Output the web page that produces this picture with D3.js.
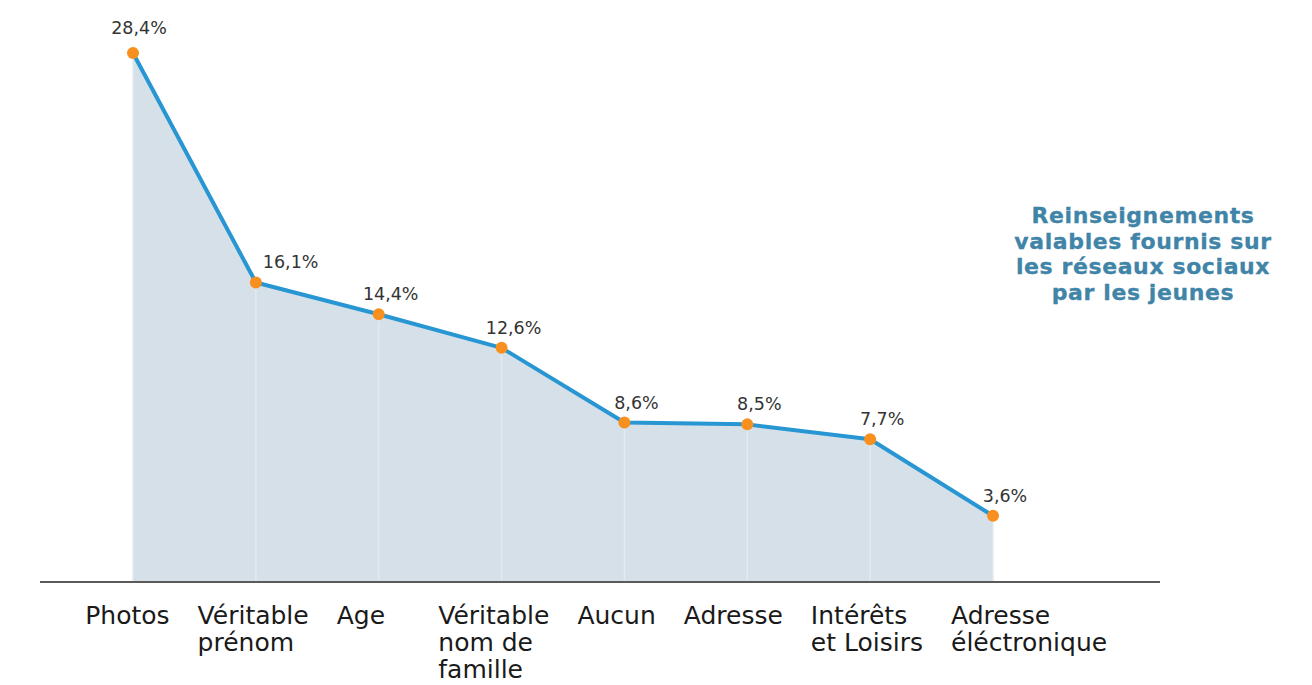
<!DOCTYPE html>
<html lang="fr">
<head>
<meta charset="utf-8">
<script src="https://cdn.jsdelivr.net/npm/d3@7"></script>
<style>
  html, body { margin: 0; padding: 0; background: #ffffff; }
  svg { display: block; }
</style>
</head>
<body>
<svg id="chart" width="1312" height="685"></svg>
<script>
// Information shared by young people on social networks (%)
const categories = [
  ["Photos"],
  ["Véritable", "prénom"],
  ["Age"],
  ["Véritable", "nom de", "famille"],
  ["Aucun"],
  ["Adresse"],
  ["Intérêts", "et Loisirs"],
  ["Adresse", "éléctronique"]
];
const values = [28.4, 16.1, 14.4, 12.6, 8.6, 8.5, 7.7, 3.6];
const valueLabels = ["28,4%", "16,1%", "14,4%", "12,6%", "8,6%", "8,5%", "7,7%", "3,6%"];
const titleLines = [
  "Reinseignements",
  "valables fournis sur",
  "les réseaux sociaux",
  "par les jeunes"
];

const svg = d3.select("#chart");
const data = values.map((v, i) => ({ i, v, cat: categories[i], label: valueLabels[i] }));

const x = d3.scalePoint()
  .domain(d3.range(values.length))
  .range([133, 993]);

const y = d3.scaleLinear()
  .domain([0, 28.4])
  .range([583, 53]);

const baseY = 582;

// filled area under the line
svg.append("path")
  .datum(data)
  .attr("fill", "#d5e0e9")
  .attr("d", d3.area()
    .x(d => x(d.i))
    .y0(baseY)
    .y1(d => y(d.v)));

// faint vertical guides from each point to the baseline
svg.append("g")
  .selectAll("line")
  .data(data)
  .join("line")
  .attr("x1", d => x(d.i))
  .attr("x2", d => x(d.i))
  .attr("y1", d => y(d.v))
  .attr("y2", baseY)
  .attr("stroke", "#e3eaf0")
  .attr("stroke-width", 1.5);

// baseline axis
svg.append("line")
  .attr("x1", 40).attr("x2", 1160)
  .attr("y1", baseY).attr("y2", baseY)
  .attr("stroke", "#5a5a5a")
  .attr("stroke-width", 2);

// the line
svg.append("path")
  .datum(data)
  .attr("fill", "none")
  .attr("stroke", "#2796d2")
  .attr("stroke-width", 4)
  .attr("stroke-linejoin", "round")
  .attr("d", d3.line().x(d => x(d.i)).y(d => y(d.v)));

// points
svg.append("g")
  .selectAll("circle")
  .data(data)
  .join("circle")
  .attr("cx", d => x(d.i))
  .attr("cy", d => y(d.v))
  .attr("r", 6)
  .attr("fill", "#f7901e");

// value labels: above each point, pushed right where the line arrives steeply
svg.append("g")
  .selectAll("text")
  .data(data)
  .join("text")
  .attr("font-family", "'DejaVu Sans', sans-serif")
  .attr("font-size", 17.5)
  .attr("fill", "#333333")
  .each(function(d) {
    const px = x(d.i), py = y(d.v);
    const sel = d3.select(this).text(d.label);
    if (d.i === 0) {
      sel.attr("x", px + 6).attr("y", py - 19).attr("text-anchor", "middle");
    } else {
      const drop = py - y(values[d.i - 1]);
      if (drop > 100) {
        sel.attr("x", px + 7).attr("y", py - 15).attr("text-anchor", "start");
      } else {
        sel.attr("x", px + 12).attr("y", py - 14).attr("text-anchor", "middle");
      }
    }
  });

// category labels under the axis: left-aligned near each point,
// then slid left wherever a label would run into its right neighbour
const catG = svg.append("g")
  .attr("font-family", "'DejaVu Sans', sans-serif")
  .attr("font-size", 25)
  .attr("fill", "#1a1a1a");

const catTexts = catG.selectAll("text")
  .data(data)
  .join("text")
  .attr("y", 624)
  .each(function(d) {
    const t = d3.select(this);
    d.cat.forEach((line, k) => {
      t.append("tspan")
        .attr("dy", k === 0 ? 0 : 27)
        .text(line);
    });
  });

const gap = 28;
const widths = [];
catTexts.each(function(d) {
  let w = 0;
  d3.select(this).selectAll("tspan").each(function() {
    w = Math.max(w, this.getComputedTextLength());
  });
  widths[d.i] = w;
});
const starts = data.map(d => x(d.i) - 42);
for (let i = starts.length - 2; i >= 0; i--) {
  if (starts[i] + widths[i] + gap > starts[i + 1]) {
    starts[i] = starts[i + 1] - gap - widths[i];
  }
}
catTexts.each(function(d) {
  d3.select(this).attr("x", starts[d.i])
    .selectAll("tspan").attr("x", starts[d.i]);
});

// title block
const title = svg.append("text")
  .attr("x", 1143)
  .attr("y", 223)
  .attr("text-anchor", "middle")
  .attr("font-family", "'DejaVu Sans', sans-serif")
  .attr("font-weight", 700)
  .attr("font-size", 22)
  .attr("letter-spacing", 0.6)
  .attr("fill", "#4084a7")
  .attr("stroke", "#4084a7")
  .attr("stroke-width", 0.3);

titleLines.forEach((line, k) => {
  title.append("tspan")
    .attr("x", 1143)
    .attr("dy", k === 0 ? 0 : 25.5)
    .text(line);
});
</script>
</body>
</html>
